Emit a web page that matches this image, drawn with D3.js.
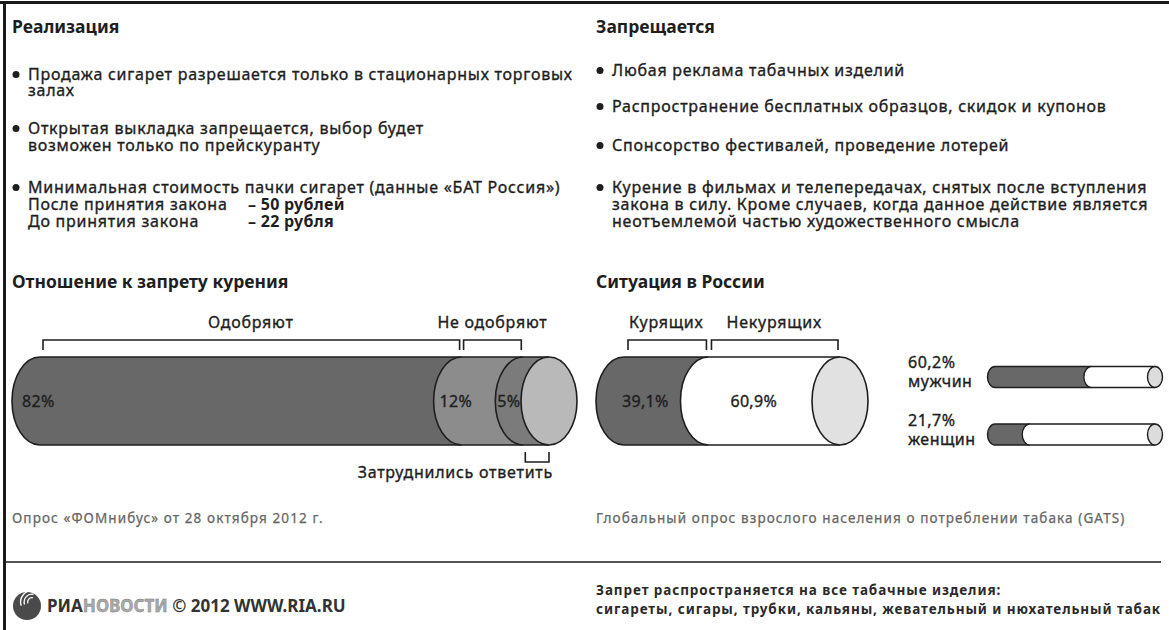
<!DOCTYPE html>
<html>
<head>
<meta charset="utf-8">
<script src="https://cdn.jsdelivr.net/npm/d3@7/dist/d3.min.js"></script>
<style>
  html, body { margin: 0; padding: 0; background: #fff; }
  svg { display: block; font-family: "Noto Sans", "Open Sans", sans-serif; }
</style>
</head>
<body>
<div id="chart"></div>
<script>
// --- data ---
const attitudeLabels = ["Одобряют", "Не одобряют", "Затруднились ответить"];
const attitudeValues = [82, 12, 5];
const attitudeText = ["82%", "12%", "5%"];

const smokingLabels = ["Курящих", "Некурящих"];
const smokingValues = [39.1, 60.9];
const smokingText = ["39,1%", "60,9%"];

const genderLabels = ["мужчин", "женщин"];
const genderValues = [60.2, 21.7];
const genderText = ["60,2%", "21,7%"];

const saleItems = [
    ["Продажа сигарет разрешается только в стационарных торговых", "залах"],
    ["Открытая выкладка запрещается, выбор будет", "возможен только по прейскуранту"],
    ["Минимальная стоимость пачки сигарет (данные «БАТ Россия»)"]
];
const priceLabels = ["После принятия закона", "До принятия закона"];
const priceValues = ["– 50 рублей", "– 22 рубля"];

const banItems = [
    ["Любая реклама табачных изделий"],
    ["Распространение бесплатных образцов, скидок и купонов"],
    ["Спонсорство фестивалей, проведение лотерей"],
    ["Курение в фильмах и телепередачах, снятых после вступления",
     "закона в силу. Кроме случаев, когда данное действие является",
     "неотъемлемой частью художественного смысла"]
];

const width = 1169;
const height = 630;
const ink = "#1e1e1e";
const bodySize = 16;
const bodySpacing = 0.75;

const svg = d3.select("#chart")
    .append("svg")
    .attr("width", width)
    .attr("height", height);

// frame
svg.append("rect").attr("x", 0).attr("y", 1).attr("width", width).attr("height", 3).attr("fill", "#1a1a1a");
svg.append("rect").attr("x", 3).attr("y", 1).attr("width", 3).attr("height", height).attr("fill", "#1a1a1a");

// slightly heavier regular text, like the original print
function weighted(sel) {
    return sel.attr("stroke", ink).attr("stroke-width", 0.35);
}

function bodyText(x, y, txt) {
    return weighted(svg.append("text")
        .attr("x", x).attr("y", y)
        .attr("font-size", bodySize)
        .attr("letter-spacing", bodySpacing)
        .attr("fill", ink)
        .text(txt));
}

function heading(x, y, txt) {
    svg.append("text")
        .attr("x", x).attr("y", y)
        .attr("font-size", 17.5).attr("font-weight", 700)
        .attr("fill", ink)
        .text(txt);
}

function bulletList(x, baselines, items) {
    let k = 0;
    items.forEach((lines) => {
        svg.append("circle")
            .attr("cx", x + 4).attr("cy", baselines[k] - 5.5)
            .attr("r", 3.5).attr("fill", ink);
        lines.forEach((line) => {
            bodyText(x + 16, baselines[k], line);
            k++;
        });
    });
}

// top text blocks
heading(12, 33, "Реализация");
heading(596, 33, "Запрещается");
bulletList(12, [80, 96, 134, 151, 193], saleItems);
bulletList(596, [76, 112, 151, 193, 210, 227], banItems);

priceLabels.forEach((lbl, i) => {
    const y = 210 + i * 17;
    bodyText(28, y, lbl);
    bodyText(248, y, priceValues[i])
        .attr("font-weight", 700).attr("letter-spacing", 0.3).attr("stroke", "none");
});

heading(12, 288, "Отношение к запрету курения");
heading(596, 288, "Ситуация в России");

// --- cylinder helper ---
// each segment's left face bulges left over the previous one; the last gets an end cap
function cylinder(g, segs, cy, rx, ry, endFill, sw) {
    const top = cy - ry, bot = cy + ry;
    segs.forEach((s) => {
        g.append("path")
            .attr("d", `M${s.x0},${top}L${s.x1},${top}L${s.x1},${bot}L${s.x0},${bot}A${rx},${ry} 0 0 1 ${s.x0},${top}Z`)
            .attr("fill", s.fill);
        g.append("path")
            .attr("d", `M${s.x1},${top}L${s.x0},${top}A${rx},${ry} 0 0 0 ${s.x0},${bot}L${s.x1},${bot}`)
            .attr("fill", "none").attr("stroke", ink).attr("stroke-width", sw);
    });
    const last = segs[segs.length - 1];
    g.append("ellipse")
        .attr("cx", last.x1).attr("cy", cy)
        .attr("rx", rx).attr("ry", ry)
        .attr("fill", endFill).attr("stroke", ink).attr("stroke-width", sw);
}

function stackSegments(values, scale, fills) {
    let acc = 0;
    return values.map((v, i) => {
        const seg = { x0: scale(acc), x1: scale(acc + v), fill: fills[i], value: v };
        acc += v;
        return seg;
    });
}

function bracket(g, x0, x1, y, dir) {
    // dir = 1 ticks point down, -1 ticks point up
    const t = 10 * dir;
    g.append("path")
        .attr("d", `M${x0},${y + t}V${y}H${x1}V${y + t}`)
        .attr("fill", "none").attr("stroke", ink).attr("stroke-width", 1.6);
}

function chartLabel(g, x, y, txt, anchor) {
    return weighted(g.append("text")
        .attr("x", x).attr("y", y)
        .attr("text-anchor", anchor || "start")
        .attr("font-size", bodySize)
        .attr("letter-spacing", bodySpacing)
        .attr("fill", ink)
        .text(txt));
}

// --- attitude cylinder ---
const cyBig = 401, ryBig = 44, rxBig = 28;
const xAtt = d3.scaleLinear()
    .domain([0, d3.sum(attitudeValues)])
    .range([40, 549]);
const gAtt = svg.append("g");
const attSegs = stackSegments(attitudeValues, xAtt, ["#686868", "#8c8c8c", "#7b7b7b"]);
cylinder(gAtt, attSegs, cyBig, rxBig, ryBig, "#b9b9b9", 1.6);

const attPad = [10, 6, 2];
attSegs.forEach((s, i) => {
    chartLabel(gAtt, s.x0 - rxBig + attPad[i], cyBig + 6, attitudeText[i])
        .attr("letter-spacing", 0.3);
});

// brackets above (approve / disapprove), below (no answer)
attSegs.forEach((s, i) => {
    if (i < 2) {
        bracket(gAtt, s.x0 + (i === 0 ? 3 : 2), s.x1 - 2, 340, 1);
        chartLabel(gAtt, (s.x0 + s.x1) / 2, 328, attitudeLabels[i], "middle");
    } else {
        bracket(gAtt, s.x0 + 2, s.x1, 462, -1);
        chartLabel(gAtt, s.x1 + 4, 478, attitudeLabels[i], "end");
    }
});

// --- smoking cylinder ---
const xSmk = d3.scaleLinear()
    .domain([0, d3.sum(smokingValues)])
    .range([624, 840]);
const gSmk = svg.append("g");
const smkSegs = stackSegments(smokingValues, xSmk, ["#686868", "#ffffff"]);
cylinder(gSmk, smkSegs, cyBig, rxBig, ryBig, "#e1e1e1", 1.6);

smkSegs.forEach((s, i) => {
    chartLabel(gSmk, i === 0 ? s.x0 - 2 : s.x0 + 22, cyBig + 6, smokingText[i])
        .attr("letter-spacing", 0.3);
    bracket(gSmk, s.x0 + (i === 0 ? 4 : 3), s.x1 - 2, 340, 1);
    chartLabel(gSmk, (s.x0 + s.x1) / 2, 328, smokingLabels[i], "middle");
});

// --- gender bars ---
const xGen = d3.scaleLinear().domain([0, 100]).range([995, 1155]);
const genY = d3.scalePoint().domain(genderLabels).range([377, 434.5]);
const rySmall = 10.5, rxSmall = 7.5;
genderLabels.forEach((lbl, i) => {
    const g = svg.append("g");
    const cy = genY(lbl);
    const segs = stackSegments([genderValues[i], 100 - genderValues[i]], xGen, ["#686868", "#ffffff"]);
    cylinder(g, segs, cy, rxSmall, rySmall, "#dcdcdc", 1.4);
    chartLabel(g, 908, cy - 9, genderText[i]).attr("letter-spacing", 0.5);
    chartLabel(g, 908, cy + 10, lbl).attr("letter-spacing", 0.5);
});

// sources
function source(x, txt) {
    svg.append("text").attr("x", x).attr("y", 523)
        .attr("font-size", 13.5).attr("letter-spacing", 1.1)
        .attr("fill", "#666").attr("stroke", "#666").attr("stroke-width", 0.25)
        .text(txt);
}
source(12, "Опрос «ФОМнибус» от 28 октября 2012 г.");
source(596, "Глобальный опрос взрослого населения о потреблении табака (GATS)");

// separator
svg.append("line").attr("x1", 6).attr("x2", 1161).attr("y1", 562).attr("y2", 562)
    .attr("stroke", "#555").attr("stroke-width", 2);

// footer right
["Запрет распространяется на все табачные изделия:",
 "сигареты, сигары, трубки, кальяны, жевательный и нюхательный табак"].forEach((t, i) => {
    svg.append("text").attr("x", 596).attr("y", 595 + i * 19)
        .attr("font-size", 13.5).attr("font-weight", 700)
        .attr("letter-spacing", 0.9)
        .attr("fill", "#2a2a2a")
        .text(t);
});

// logo
const logo = svg.append("g").attr("transform", "translate(27,606)");
logo.append("circle").attr("r", 14).attr("fill", "#4a4a4a");
[5, 8.5, 12].forEach((r) => {
    logo.append("path")
        .attr("d", d3.arc()({ innerRadius: r - 1.3, outerRadius: r, startAngle: -1.9, endAngle: 0.2 }))
        .attr("transform", "translate(5,-4)")
        .attr("fill", "#fff");
});
const logoText = svg.append("text").attr("x", 47).attr("y", 612)
    .attr("font-size", 17).attr("font-weight", 700).attr("fill", "#333");
logoText.append("tspan").text("РИА");
logoText.append("tspan").attr("fill", "#aaa").attr("stroke", "#777").attr("stroke-width", 0.4).text("НОВОСТИ");
logoText.append("tspan").text(" © 2012 WWW.RIA.RU");
</script>
</body>
</html>
